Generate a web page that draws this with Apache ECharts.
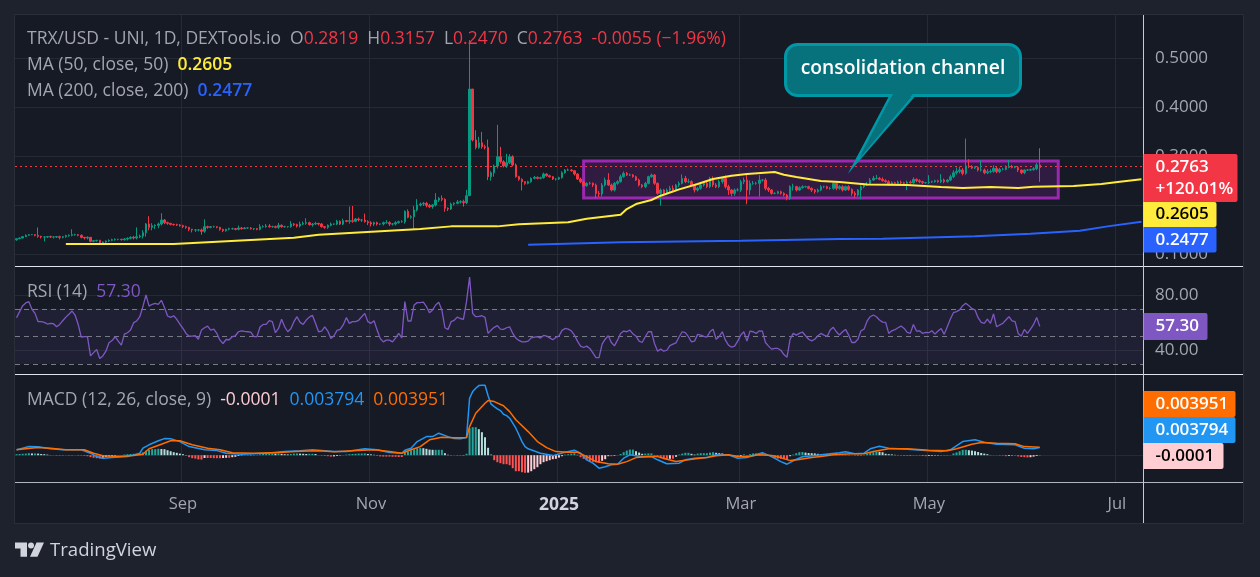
<!DOCTYPE html>
<html><head><meta charset="utf-8">
<style>html,body{margin:0;padding:0;background:#1e222d}#c{width:1260px;height:577px}</style>
<script src="https://cdn.jsdelivr.net/npm/echarts@6/dist/echarts.min.js"></script></head>
<body><div id="c"></div>
<script>
// ---- DATA ----
const firstDay = '2024-07-09';
const dayCount = 366;
const firstOpen = 0.1290;
const closes = [
.1313,.1327,.1354,.1381,.1395,.1395,.1381,.1361,.1347,.1347,
.1354,.1347,.1347,.1354,.1340,.1354,.1374,.1381,.1395,.1395,
.1381,.1340,.1327,.1340,.1259,.1272,.1279,.1232,.1245,.1266,
.1279,.1293,.1300,.1300,.1293,.1306,.1320,.1340,.1327,.1354,
.1367,.1436,.1612,.1544,.1578,.1585,.1612,.1694,.1640,.1626,
.1606,.1599,.1592,.1578,.1558,.1544,.1504,.1490,.1490,.1490,
.1463,.1558,.1544,.1558,.1558,.1544,.1504,.1476,.1504,.1517,
.1517,.1504,.1531,.1517,.1531,.1531,.1517,.1517,.1504,.1558,
.1558,.1571,.1558,.1558,.1544,.1585,.1558,.1558,.1558,.1612,
.1599,.1571,.1612,.1626,.1640,.1599,.1612,.1626,.1612,.1558,
.1544,.1585,.1612,.1612,.1667,.1612,.1680,.1667,.1680,.1667,
.1714,.1694,.1694,.1660,.1640,.1612,.1640,.1612,.1612,.1640,
.1640,.1612,.1612,.1640,.1660,.1660,.1871,.1749,.1762,.1898,
.2000,.2020,.2034,.1993,.1966,.2000,.2102,.2136,.2116,.1932,
.1918,.2020,.2034,.2061,.2068,.2047,.2190,.4367,.3327,.3176,
.3272,.3190,.3176,.2578,.2659,.2796,.2986,.2884,.2796,.2864,
.2986,.2816,.2578,.2524,.2476,.2442,.2476,.2544,.2564,.2544,
.2558,.2632,.2598,.2578,.2530,.2530,.2558,.2659,.2714,.2714,
.2700,.2632,.2530,.2476,.2394,.2442,.2442,.2408,.2238,.2224,
.2408,.2510,.2408,.2306,.2442,.2476,.2578,.2646,.2612,.2612,
.2578,.2510,.2408,.2374,.2442,.2578,.2612,.2442,.2238,.2306,
.2238,.2306,.2340,.2306,.2408,.2442,.2544,.2476,.2476,.2408,
.2306,.2340,.2408,.2442,.2374,.2544,.2408,.2374,.2476,.2544,
.2374,.2306,.2238,.2306,.2306,.2476,.2510,.2306,.2442,.2442,
.2442,.2510,.2510,.2340,.2306,.2238,.2238,.2272,.2238,.2204,
.2136,.2374,.2374,.2306,.2353,.2374,.2374,.2340,.2306,.2272,
.2306,.2374,.2374,.2340,.2340,.2442,.2340,.2374,.2306,.2374,
.2319,.2238,.2204,.2306,.2374,.2408,.2428,.2510,.2544,.2544,
.2524,.2496,.2476,.2421,.2455,.2442,.2469,.2455,.2442,.2469,
.2455,.2524,.2496,.2476,.2455,.2455,.2469,.2476,.2496,.2476,
.2510,.2476,.2510,.2578,.2659,.2687,.2714,.2646,.2796,.2782,
.2755,.2768,.2714,.2714,.2659,.2680,.2687,.2748,.2680,.2727,
.2727,.2768,.2789,.2768,.2768,.2714,.2659,.2714,.2714,.2721,
.2741,.2819,.2763];
// wick length above / below the candle body, in thousandths of a dollar
const upperWickMilli = [
1,1,1,2,1,1,1,16,1,1, 1,2,1,1,2,1,2,2,11,2, 1,2,1,2,1,1,1,1,1,1, 2,2,2,1,1,2,2,2,3,19,
3,5,2,16,5,2,3,14,2,2, 1,1,2,2,2,2,1,1,2,2, 3,15,2,1,2,1,1,1,1,2, 2,1,5,2,2,1,2,1,1,5,
3,4,4,2,2,5,2,2,1,6, 2,2,5,4,9,2,2,3,1,2, 1,2,3,1,3,2,4,1,29,30, 2,3,2,13,3,3,2,2,1,2,
5,3,2,3,2,3,2,4,3,8, 12,3,3,3,3,2,14,3,6,2, 2,3,2,4,3,4,12,100,0,20, 12,22,4,16,3,3,65,20,3,18,
5,3,3,2,2,1,2,2,3,2, 2,3,2,2,1,2,2,3,2,3, 2,1,2,3,3,2,3,2,3,5, 4,5,14,3,3,3,4,4,3,3,
2,2,3,2,3,2,3,2,2,3, 2,3,5,6,2,4,8,5,6,3, 2,3,5,4,5,3,4,4,4,3, 6,4,2,3,4,4,5,14,6,5,
3,10,2,4,3,2,2,2,2,2, 2,3,6,2,3,3,2,2,2,2, 3,3,2,2,3,4,2,3,3,2, 3,2,4,2,3,4,4,4,5,7,
3,4,3,3,3,2,3,3,2,3, 3,4,2,3,2,1,14,2,2,2, 12,3,2,4,5,8,7,4,56,14, 3,2,2,20,3,5,4,6,3,3,
3,4,13,3,3,3,1,1,2,2, 3,4,34];
const lowerWickMilli = [
2,1,1,1,1,1,2,3,3,9, 2,2,3,2,4,2,2,2,2,2, 2,2,3,3,2,2,2,3,3,2, 2,2,2,2,2,2,3,2,3,3,
3,5,8,6,6,7,6,3,3,3, 2,2,2,2,3,3,4,5,4,3, 7,3,3,2,2,2,3,3,2,2, 2,2,2,2,1,2,2,3,2,2,
2,2,2,2,2,3,2,2,2,2, 3,3,3,2,3,2,4,2,3,2, 3,3,2,2,2,2,2,2,5,3, 2,3,4,2,5,5,4,3,2,3,
2,4,3,3,2,2,4,2,3,27, 3,3,4,4,3,4,3,4,4,7, 4,2,3,2,3,8,3,0,3,4, 3,4,4,7,8,8,5,4,3,4,
3,3,2,3,18,3,2,2,2,2, 2,2,2,2,2,3,2,2,2,2, 2,3,2,3,3,2,3,4,10,6, 5,3,2,3,3,3,2,2,2,2,
2,2,3,3,3,2,2,3,3,25, 3,3,4,2,3,4,2,3,3,3, 5,3,3,3,3,3,4,3,3,4, 4,10,6,5,3,4,5,29,10,3,
3,27,3,4,4,3,2,2,3,3, 4,3,8,3,2,2,2,2,4,4, 2,2,3,2,3,3,4,3,3,2, 3,5,6,3,19,3,2,2,2,2,
2,2,2,3,2,2,3,3,4,14, 2,2,3,3,3,2,3,2,2,2, 3,3,2,2,3,4,4,4,3,3, 2,2,3,3,3,3,3,3,3,3,
2,2,2,2,2,4,3,3,2,2, 2,3,29];
// [day index, value] vertices
const ma50Points = [[16,.1204],[51,.1204],[90,.1334],[98,.1395],[131,.1510],[141,.1564],[156,.1564],[163,.1605],[179,.1646],[185,.1721],[196,.1802],[198,.1918],[201,.2020],[206,.2102],[209,.2190],[215,.2319],[221,.2428],[226,.2530],[232,.2598],[237,.2632],[246,.2673],[249,.2619],[253,.2571],[261,.2489],[267,.2469],[276,.2421],[289,.2408],[300,.2367],[307,.2347],[316,.2367],[325,.2347],[330,.2374],[343,.2387],[352,.2428],[358,.2476],[365,.2524]];
const ma200Points = [[166,.1190],[196,.1238],[235,.1272],[267,.1306],[281,.1313],[311,.1360],[329,.1415],[345,.1476],[354,.1564],[365,.1660]];
const rsiValues = [
63.6,68,72.3,74.3,75.2,69.7,66.7,60.7,60.7,60.2, 59,59.5,59.2,57,58.7,61.4,64,66,68.4,65.5,
58.7,49.5,49.8,49.8,35.9,38.3,40.5,34,35.9,39.3, 45.4,47,49.8,46.6,43.7,51.7,52.7,54.6,60,61.2,
64.3,71.6,80,72,73.3,74,73.3,76.2,71,64.8, 63.8,65,62.4,59,55.8,52.2,50.2,50.2,50.5,48,
54.6,56.3,57.5,54.6,55.3,52.2,47.3,44.9,47.8,47.6, 49.8,50.5,53.4,54.1,53.6,53.4,53.2,49.8,49.8,56.8,
58.7,58.7,61.4,60.7,52.7,55.8,62.4,57,53.4,55.6, 60.7,64.3,60.2,58.7,61.9,64,65.3,59.5,53.4,53.9,
57,53.9,48.5,50.5,54.4,55.1,58.3,63.6,59.5,60.7, 60.7,61.7,64.3,66.7,60.7,59.5,61.4,54.6,48.5,46.1,
47.3,47.3,46.1,49,52.2,49,75.2,61.2,61.2,72.8, 74.5,74.5,74.8,71.6,67.2,69.2,72.8,74.8,69.2,56.3,
55.1,60.7,61.7,64,63,62.4,75.2,93,66.7,64.3, 64.6,65,63.8,52.2,54.6,56.6,57.8,55.3,55.1,56.3,
57,52.2,48.8,47.1,46.1,46.1,46.6,49,49.5,49.8, 48.8,50.7,50.2,49,47.6,49.3,50.2,54.4,55.8,55.3,
54.1,51,46.6,43,42,43,41.3,38.1,34.7,34.7, 44.4,48,50.5,45.6,43.2,47.3,52.2,53.9,53.4,54.6,
51.9,50.2,46.6,45.6,49.8,53.4,53.4,44.9,39.3,40.8, 39.3,40,43.4,44.4,45.4,49.8,53.4,52.7,49.8,46.1,
46.6,51.5,51,50,49.5,53.4,55.3,48,50,53.4, 47.3,43.7,42.2,43,46.6,51,53.4,46.6,53.9,53.4,
52.2,54.1,53.9,45.6,43,40.8,41.3,41.3,40,36.9, 35,48,52.2,51,52.2,53.2,50.5,48,46.8,48,
50.5,52.2,51,50,54.6,56.6,53.4,51,53.4,55.1, 51,45.6,45.6,48,54.1,55.3,61.2,64.3,65.5,64.3,
61.9,60.4,60.2,52.2,54.1,54.9,56.3,57.5,55.8,52.9, 52.2,58.7,53.9,54.1,52.2,52.9,52.7,54.1,51.7,53.9,
55.8,51.5,57,62.6,67.2,68,69.2,72.3,74,72.3, 70.1,69.2,63.6,60.2,59.5,62.6,59.5,66.3,57,58.3,
59.5,61.9,64.3,61.2,60.7,52.2,50.2,55.1,52.2,55.3, 58.7,63.8,57.3];
// MACD polyline vertices [day index, value in thousandths]
const macdPoints = [[0,2.7],[2,3.5],[4,4.3],[7,4.2],[11,3.2],[15,2.7],[21,2.7],[24,1],[26,-.7],[28,-1.5],[31,-1.2],[36,-.7],[40,1],[41,3.5],[43,5.2],[46,7.2],[48,8.3],[50,8.2],[53,6.8],[56,4.3],[61,2.7],[65,2.3],[68,1],[73,.5],[81,1],[87,1.8],[92,2.2],[96,2.7],[103,1.8],[107,1.8],[113,3.2],[117,2.7],[121,1.3],[125,1],[126,2.5],[128,3.5],[130,6.8],[133,9.3],[135,9.3],[137,11],[140,9.3],[142,8.3],[144,8.2],[146,8.8],[147,28.5],[148,31.8],[149,33.5],[150,34.8],[151,35],[152,35],[153,29.7],[154,25.5],[155,24.3],[156,23.2],[157,22.3],[158,20.5],[159,19.8],[160,18.5],[161,16],[162,13.5],[163,10.2],[164,6.8],[165,4.3],[166,3.2],[170,1],[174,-.2],[178,1.5],[181,2.5],[183,1],[185,-2.3],[187,-4],[189,-6.5],[191,-5.8],[193,-4.8],[195,-4.5],[197,-1.5],[199,.2],[203,-.8],[206,-.7],[208,-2.3],[211,-4.3],[215,-4],[217,-2.3],[220,-1.5],[224,-1.2],[227,.2],[231,.2],[234,-1.5],[237,-1.2],[240,.2],[242,1.3],[245,-.7],[248,-3.2],[250,-4.5],[252,-2.8],[255,-.8],[259,-.2],[264,.7],[267,1.2],[269,1.7],[272,.7],[275,1],[277,3.2],[280,4.5],[283,3.5],[289,3],[295,2.3],[300,1.8],[303,2.7],[307,6.8],[311,7.7],[314,6.5],[318,5.5],[324,5.2],[327,3.5],[330,3.2],[332,3.794]];
const signalPoints = [[0,2.7],[3,3.2],[7,3.8],[11,3.5],[16,2.7],[22,2.7],[25,1],[28,-.3],[33,-.7],[38,-.2],[41,.5],[43,3.2],[47,5.5],[50,7.2],[53,7.2],[57,5.2],[62,3.5],[66,2.7],[70,1.2],[77,1],[85,1.3],[92,2],[98,2.2],[103,1.7],[109,2.2],[116,2.7],[121,1.8],[125,1],[128,2.7],[131,4.3],[134,7.7],[138,9],[142,8.7],[146,8.8],[147,14.3],[149,21],[152,26],[153,27.3],[155,26.8],[158,24.7],[160,21.8],[162,17.7],[166,11.8],[169,6.8],[172,3.8],[175,1.8],[179,1.5],[182,1.5],[185,-.7],[188,-3.2],[192,-4.3],[195,-4.5],[198,-3.2],[201,-1.2],[205,-.7],[208,-.7],[211,-2],[214,-3.2],[218,-2.3],[221,-1.7],[224,-1.2],[227,-.3],[231,.2],[234,-.7],[237,-.7],[241,.2],[245,-.2],[248,-1.2],[251,-2.7],[254,-2.2],[258,-1.2],[261,-.7],[265,.2],[267,.5],[272,.7],[275,.7],[278,1.8],[283,3.2],[289,3.2],[296,2.5],[302,2.2],[305,3.2],[310,5.5],[313,6.3],[318,6],[324,5.7],[327,4.3],[332,3.951]];
// MACD histogram, thousandths
const histValues = [
.5,.6,.7,.8,1,.9,.9,.8,.6,.5, .3,.1,-.1,-.2,-.2,-.1,-.1,-.2,-.1,-.1, -.2,-.2,-.3,-.5,-1,-1.3,-1.5,-1.7,-1.3,-.9,
-.6,-.4,-.3,-.1,.1,.3,.5,.6,.7,.7, .8,1.4,2.2,2.7,3,3,3.2,3.1,3,2.5, 2,1.5,1.2,.8,.5,-.3,-1,-1.5,-1.7,-2.1,
-2.2,-1.4,-1.4,-1.4,-1.5,-1.5,-1.5,-1.4,-1.3,-1.3, -1,-.8,-.4,-.2,-.1,-.2,-.3,-.1,.1,.4, .6,.7,.8,.9,.8,.9,.7,.5,.4,.6,
.8,.9,.8,.7,.6,.7,.7,.6,-.1,-.2, -.3,-.5,-.7,-.6,-.4,-.2,.1,.3,.5,.6, .7,.8,.8,.9,.6,.4,.2,-.3,-.6,-.7,
-.7,-.7,-.8,-.8,-.9,-.9,1.5,1.8,2.5,3, 3.5,3.6,3.5,3.2,2.8,2.7,2.7,2.7,2.7,1, .2,.1,-.1,-.2,-.2,-.3,.7,13.5,14,14,
13,11.5,9,3.7,.3,-2.5,-3.5,-4,-4.5,-4.5, -5,-6.5,-8,-8,-8.5,-8.8,-8.7,-8,-7,-6, -4.5,-3.5,-3,-2.5,-2,-1.8,-1.2,-.5,.3,.5,
.8,1,.2,-1,-1.8,-2.5,-3,-3.3,-3.5,-3.8, -2.8,-2,-.5,-.5,-.3,.1,.6,1.5,2.3,2.8, 2.8,2,1.3,.7,.8,.9,.9,-.3,-.9,-1.5,
-2,-2.2,-1.8,-1.8,-.8,.3,.8,1.2,1.2,.7, .3,.8,1,1,1,1.3,1.5,1.2,1,1.1, .6,.2,-.3,-.5,-.6,-.5,.4,-.2,.5,.9,
.8,1,1.2,.4,-.2,-1,-1.5,-1.7,-1.8,-2, -2,-.5,.3,1,1.5,1.6,1.3,1.1,1,.9, .7,.6,.6,.5,.6,1,.9,.5,.3,.2,
.1,-.1,-.2,-.3,-.2,.1,.7,1.2,1.5,1.8, 1.7,1.5,.7,.5,.4,.2,.1,-.2,-.3,-.3, -.2,-.1,-.2,-.2,-.4,-.5,-.4,-.3,-.4,-.2,
-.1,-.2,-.1,.1,.9,1.4,2,2.7,2.7,2.5, 2.3,2,1.6,1.1,.8,.5,.1,.1,-.1,-.2, -.2,-.5,-.4,-.2,-.2,-.6,-.9,-1,-1.1,-1,
-.7,-.4,-.1];
const priceTicks = [0.1,0.2,0.3,0.4,0.5];
const rsiTicks = [40,80];
const macdTicks = [0];
const monthTicks = {'2024-09-01':'Sep','2024-11-01':'Nov','2025-01-01':'2025','2025-03-01':'Mar','2025-05-01':'May','2025-07-01':'Jul'};
const consolidationBox = {fromDay:184,toDay:338,low:0.2143,high:0.2898};
const lastPrice = 0.2763;

// ---- BUILD ----
const FONT = '"Open Sans", sans-serif';
const LEG = 17.5;
const days = [];
{ const d0 = Date.parse(firstDay+'T00:00:00Z');
  for (let i=0;i<dayCount;i++) days.push(new Date(d0+i*864e5).toISOString().slice(0,10)); }
const candles = closes.map((c,i)=>{
  const o = i? closes[i-1] : firstOpen;
  return [o,c,Math.min(o,c)-lowerWickMilli[i]/1000,Math.max(o,c)+upperWickMilli[i]/1000];
});
const milli = p => p.map(([i,v])=>[i,v/1000]);
const histData = histValues.map((v,i)=>{
  const prev = i? histValues[i-1] : 0;
  const col = v>=0 ? (v>=prev?'#26a69a':'#b2dfdb') : (v>prev?'#ffcdd2':'#ff5252');
  return {value:v/1000,itemStyle:{color:col}};
});
const GRID='#262a35', TXT='#a3a6af';
const isMonth = (i,v)=>v in monthTicks;
const xAxisBase = gi=>({type:'category',gridIndex:gi,data:days,boundaryGap:true,
  axisLine:{show:false},axisTick:{show:false},
  axisLabel:{show:false,interval:isMonth},
  splitLine:{show:true,interval:isMonth,lineStyle:{color:GRID,width:1}}});
const yAxisBase = (gi,min,max,ticks,fmt,show)=>({type:'value',gridIndex:gi,position:'right',min,max,scale:true,
  axisLine:{show:false},
  axisTick:{show:false,customValues:ticks},
  axisLabel:{show,customValues:ticks,formatter:fmt,color:TXT,fontFamily:FONT,fontSize:17,margin:12,align:'left',showMinLabel:true,showMaxLabel:true},
  splitLine:{show:true,lineStyle:{color:GRID,width:1}}});
const rowTitle=(top,text,rich)=>({left:22,top,text,textStyle:{fontFamily:FONT,fontSize:LEG,fontWeight:400,color:TXT,rich}});
const seg=(color,w)=>({color,fontFamily:FONT,fontSize:LEG,fontWeight:w||400});
const tag=(x,y,w,h,fill,lines,tc)=>{
  const out=[{type:'rect',z:50,shape:{x,y,width:w,height:h,r:[0,2,2,0]},style:{fill}}];
  lines.forEach((t,k)=>out.push({type:'text',z:51,x:x+12,y:y+(lines.length>1?(k?35:13):h/2),
    style:{text:t,fill:tc||'#fff',font:'600 17px '+FONT,textVerticalAlign:'middle',textAlign:'left'}}));
  return out;
};
const hline=(y,c)=>({type:'line',z:20,shape:{x1:15,y1:y,x2:1243,y2:y},style:{stroke:c,lineWidth:1}});
const graphics=[
  {type:'rect',z:-5,shape:{x:14.5,y:14.5,width:1229,height:509},style:{fill:'#161a25',stroke:'#2a2e39',lineWidth:1}},
  hline(266.5,'#e0e3eb'),hline(374.5,'#e0e3eb'),hline(482.5,'#b2b5be'),
  {type:'line',z:20,shape:{x1:1143.5,y1:15,x2:1143.5,y2:523},style:{stroke:'#c8cad0',lineWidth:1}},
  {type:'polygon',z:30,shape:{points:[[891.5,94],[915.5,94],[854,165]]},style:{fill:'#07717c',stroke:'#0097a7',lineWidth:2.5,lineJoin:'miter'}},
  {type:'rect',z:31,shape:{x:785.5,y:44.5,width:235,height:51,r:12},style:{fill:'#07717c',stroke:'#0097a7',lineWidth:3}},
  {type:'polygon',z:32,shape:{points:[[893.5,93],[913.5,93],[860,158]]},style:{fill:'#07717c'}},
  {type:'text',z:33,x:903,y:69,style:{text:'consolidation channel',fill:'#fff',font:'600 19.3px '+FONT,textAlign:'center',textVerticalAlign:'middle'}},
  ...tag(1143.5,154,94,48,'#f23645',['0.2763','+120.01%']),
  ...tag(1143.5,202,73,25,'#ffeb3b',['0.2605'],'#000'),
  ...tag(1143.5,227,73,25.5,'#2962ff',['0.2477']),
  ...tag(1143.5,313,64,27,'#7e57c2',['57.30']),
  ...tag(1143.5,391,92,26,'#ff6d00',['0.003951']),
  ...tag(1143.5,417,92,26,'#2196f3',['0.003794']),
  ...tag(1143.5,443,80,26,'#ffcdd2',['-0.0001'],'#000'),
  {type:'polygon',z:5,shape:{points:[[15,542.5],[27,542.5],[27,556.7],[20.5,556.7],[20.5,548.5],[15,548.5]]},style:{fill:'#d1d4dc'}},
  {type:'circle',z:5,shape:{cx:31,cy:545.5,r:3},style:{fill:'#d1d4dc'}},
  {type:'polygon',z:5,shape:{points:[[36.5,542.5],[44,542.5],[37.5,556.7],[30,556.7]]},style:{fill:'#d1d4dc'}},
  {type:'text',z:5,x:50,y:551,style:{text:'TradingView',fill:'#d1d4dc',font:'500 18.6px '+FONT,textVerticalAlign:'middle'}}
];
const chart=echarts.init(document.getElementById('c'),null,{renderer:'canvas'});
chart.setOption({
  animation:false,backgroundColor:'transparent',
  title:[
    rowTitle(25.5,'TRX/USD - UNI, 1D, DEXTools.io  O{r|0.2819}  H{r|0.3157}  L{r|0.2470}  C{r|0.2763}  {r|-0.0055 (−1.96%)}',{r:seg('#f23645')}),
    rowTitle(51.5,'MA (50, close, 50)  {y|0.2605}',{y:seg('#ffeb3b',600)}),
    rowTitle(77.5,'MA (200, close, 200)  {b|0.2477}',{b:seg('#2962ff',600)}),
    rowTitle(278.5,'RSI (14)  {p|57.30}',{p:seg('#7e57c2',500)}),
    rowTitle(386.5,'MACD (12, 26, close, 9)  {h|-0.0001}  {b|0.003794}  {o|0.003951}',{h:seg('#ffcdd2',500),b:seg('#2196f3',500),o:seg('#ff6d00',500)})
  ],
  graphic:{elements:graphics},
  grid:[
    {left:15,width:1128,top:15,height:251.5},
    {left:15,width:1128,top:267,height:107},
    {left:15,width:1128,top:375,height:107}
  ],
  xAxis:[xAxisBase(0),xAxisBase(1),
    Object.assign(xAxisBase(2),{axisLabel:{show:true,interval:isMonth,margin:14,
      formatter:v=>v==='2025-01-01'?'{y|2025}':(monthTicks[v]||''),
      color:TXT,fontFamily:FONT,fontSize:16.5,rich:{y:{color:'#d1d4dc',fontFamily:FONT,fontSize:17.5,fontWeight:700}}}})
  ],
  yAxis:[
    yAxisBase(0,0.0745,0.5878,priceTicks,v=>v.toFixed(4),true),
    yAxisBase(1,22.8,100.3,rsiTicks,v=>v.toFixed(2),true),
    yAxisBase(2,-0.0134,0.0401,macdTicks,()=> '',false)
  ],
  series:[
    {type:'candlestick',name:'TRX/USD',xAxisIndex:0,yAxisIndex:0,data:candles,barWidth:2,z:4,
     itemStyle:{color:'#089981',color0:'#f23645',borderColor:'#089981',borderColor0:'#f23645',borderWidth:1},
     markLine:{silent:true,symbol:'none',label:{show:false},z:3,
       lineStyle:{color:'#f23645',type:[2,3],width:1},data:[{yAxis:lastPrice}]},
     markArea:{silent:true,z:2,label:{show:false},
       itemStyle:{color:'rgba(156,39,176,0.2)',borderColor:'#9c27b0',borderWidth:3},
       data:[[{xAxis:days[consolidationBox.fromDay],yAxis:consolidationBox.high},{xAxis:days[consolidationBox.toDay],yAxis:consolidationBox.low}]]}},
    {type:'line',name:'MA 50',xAxisIndex:0,yAxisIndex:0,data:ma50Points,showSymbol:false,z:6,lineStyle:{color:'#ffeb3b',width:2}},
    {type:'line',name:'MA 200',xAxisIndex:0,yAxisIndex:0,data:ma200Points,showSymbol:false,z:6,lineStyle:{color:'#2962ff',width:2}},
    {type:'line',name:'RSI',xAxisIndex:1,yAxisIndex:1,data:rsiValues,showSymbol:false,z:6,lineStyle:{color:'#7e57c2',width:1.3},
     markArea:{silent:true,itemStyle:{color:'rgba(126,87,194,0.1)'},data:[[{yAxis:70},{yAxis:30}]]},
     markLine:{silent:true,symbol:'none',label:{show:false},lineStyle:{color:'#787b86',type:[5,4],width:1},data:[{yAxis:70},{yAxis:50},{yAxis:30}]}},
    {type:'bar',name:'Histogram',xAxisIndex:2,yAxisIndex:2,data:histData,barWidth:2,z:4},
    {type:'line',name:'MACD',xAxisIndex:2,yAxisIndex:2,data:milli(macdPoints),showSymbol:false,z:6,lineStyle:{color:'#2196f3',width:1.5}},
    {type:'line',name:'Signal',xAxisIndex:2,yAxisIndex:2,data:milli(signalPoints),showSymbol:false,z:7,lineStyle:{color:'#ff6d00',width:1.5}}
  ]
});
</script></body></html>
